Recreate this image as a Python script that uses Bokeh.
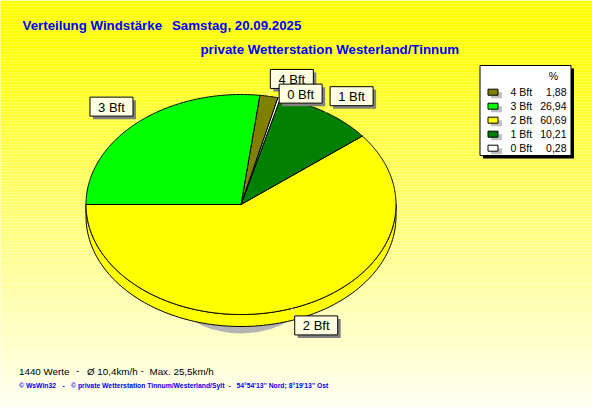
import numpy as np
from bokeh.plotting import figure
from bokeh.models import Range1d
from bokeh.embed import file_html
from bokeh.resources import INLINE
from bokeh.core.properties import value

# ---------------- data ----------------
categories = ["4 Bft", "3 Bft", "2 Bft", "1 Bft", "0 Bft"]          # legend order
percents = [1.88, 26.94, 60.69, 10.21, 0.28]
colors = ["#808000", "#00FF00", "#FFFF00", "#008000", "#FFFFFF"]
pie_order = ["2 Bft", "1 Bft", "0 Bft", "4 Bft", "3 Bft"]            # counter-clockwise from the left
title_parts = ["Verteilung Windstärke", "Samstag, 20.09.2025"]
subtitle_text = "private Wetterstation Westerland/Tinnum"
footer1_parts = ["1440 Werte", "-", "Ø 10,4km/h", "-", "Max. 25,5km/h"]
footer2_parts = ["© WsWin32", "-", "© private Wetterstation Tinnum/Westerland/Sylt", "-",
                 "54°54'13'' Nord; 8°19'13'' Ost"]

# ---------------- layout ----------------
W, H = 592, 407
CX, CY, RX, RY, DEPTH = 240.5, 204.0, 155.0, 110.0, 12.0
START = 180.0
LABEL_GAP = 8.0
BOX_W, BOX_H = 43.0, 19.0
label_nudge = {"0 Bft": (-2.0, 13.0)}
title_x = [22, 171.5]
footer1_x = [18.5, 75.5, 86.5, 140, 149]
footer2_x = [18.5, 62, 70.5, 228, 236]
FONT = value("Liberation Sans")

p = figure(width=W, height=H, output_backend="svg", toolbar_location=None,
           x_range=Range1d(0, W), y_range=Range1d(H, 0),
           x_axis_type=None, y_axis_type=None, min_border=0)
p.grid.visible = False
p.outline_line_color = None
p.background_fill_color = "#FFFFF0"
p.border_fill_color = "#FFFFF0"

# background gradient (yellow at top -> almost white at bottom)
ys = np.arange(0, H + 1, 3)
bl = np.clip((ys - 30) / (H - 30), 0, 1) * 245
bg_cols = ["#%02X%02X%02X" % (255, 255, int(b)) for b in bl]
p.quad(left=-2, right=W + 2, top=ys, bottom=ys + 3, fill_color=bg_cols, line_color=None)

cmap = dict(zip(categories, colors))
pmap = dict(zip(categories, percents))


def ell(t, dy=0.0, extra=0.0):
    r = np.radians(t)
    return CX + (RX + extra) * np.cos(r), CY + dy - (RY + extra) * np.sin(r)


# slice angles
slices = []
a = START
for c in pie_order:
    span = pmap[c] / 100.0 * 360.0
    slices.append((c, a, a + span))
    a += span

# pie shadow
p.ellipse(x=CX, y=CY + 16, width=210, height=226, fill_color="#B4B4B4", line_color=None)

# sides (front half only)
for c, a0, a1 in slices:
    lo, hi = max(a0, 180.0), min(a1, 360.0)
    if lo < hi:
        t = np.linspace(lo, hi, 120)
        xt, yt = ell(t)
        xb, yb = ell(t[::-1], dy=DEPTH)
        p.patch(np.concatenate([xt, xb]), np.concatenate([yt, yb]),
                fill_color=cmap[c], line_color="black", line_width=1)

# top faces
for c, a0, a1 in slices:
    n = max(4, int((a1 - a0) * 2))
    t = np.linspace(a0, a1, n)
    x, y = ell(t)
    p.patch(np.concatenate([[CX], x]), np.concatenate([[CY], y]),
            fill_color=cmap[c], line_color="black", line_width=1)

# leader lines + label boxes
boxes = []
for c, a0, a1 in slices:
    m = (a0 + a1) / 2.0
    ex, ey = ell(m)
    ax, ay = ell(m, extra=LABEL_GAP)
    p.line([ex, ax], [ey, ay], line_color="white", line_width=1)
    left = ax if np.cos(np.radians(m)) >= 0 else ax - BOX_W
    top = ay - BOX_H if np.sin(np.radians(m)) >= 0 else ay
    dx, dy = label_nudge.get(c, (0.0, 0.0))
    boxes.append((top + dy, left + dx, c))

for top, left, c in sorted(boxes):
    p.quad(left=left + 3, right=left + BOX_W + 3, top=top + 3, bottom=top + BOX_H + 3,
           fill_color="#808080", line_color=None)
    p.quad(left=left, right=left + BOX_W, top=top, bottom=top + BOX_H,
           fill_color="#FFFFE1", line_color="black", line_width=1)
    p.text(x=[left + BOX_W / 2], y=[top + BOX_H / 2 + 0.5], text=[c], text_font=FONT,
           text_font_size="13px", text_align="center", text_baseline="middle", text_color="black")

# legend
LX0, LX1, LY0, LY1 = 479.5, 570.5, 65.0, 155.0
p.quad(left=LX0 + 3, right=LX1 + 3, top=LY0 + 3, bottom=LY1 + 3, fill_color="black", line_color=None)
p.quad(left=LX0, right=LX1, top=LY0, bottom=LY1, fill_color="white", line_color="black", line_width=1)
p.text(x=[553], y=[75], text=["%"], text_font=FONT, text_font_size="10.5px",
       text_align="center", text_baseline="middle", text_color="black")
row_y = 91.7 + 14.0 * np.arange(len(categories))
p.quad(left=490.5, right=501.5, top=row_y - 0, bottom=row_y + 6, fill_color="#C0C0C0", line_color=None)
p.quad(left=487.5, right=497.5, top=row_y - 3, bottom=row_y + 3, fill_color=colors,
       line_color="black", line_width=1)
p.text(x=[510] * len(categories), y=row_y, text=categories, text_font=FONT, text_font_size="10.5px",
       text_align="left", text_baseline="middle", text_color="black")
p.text(x=[566] * len(categories), y=row_y, text=[f"{v:.2f}".replace(".", ",") for v in percents],
       text_font=FONT, text_font_size="10.5px", text_align="right", text_baseline="middle",
       text_color="black")

# titles and footers
p.text(x=title_x, y=[25] * len(title_parts), text=title_parts, text_font=FONT, text_font_size="13.3px",
       text_font_style="bold", text_color="#0000FF", text_baseline="middle")
p.text(x=[200], y=[49], text=[subtitle_text], text_font=FONT, text_font_size="13.3px",
       text_font_style="bold", text_color="#0000FF", text_baseline="middle")
p.text(x=footer1_x, y=[370.5] * len(footer1_parts), text=footer1_parts, text_font=FONT,
       text_font_size="9.8px", text_color="black", text_baseline="middle")
p.text(x=footer2_x, y=[385] * len(footer2_parts), text=footer2_parts, text_font=FONT,
       text_font_size="6.8px", text_font_style="bold", text_color="#0000FF", text_baseline="middle")

open("out.html", "w").write(file_html(p, INLINE))
